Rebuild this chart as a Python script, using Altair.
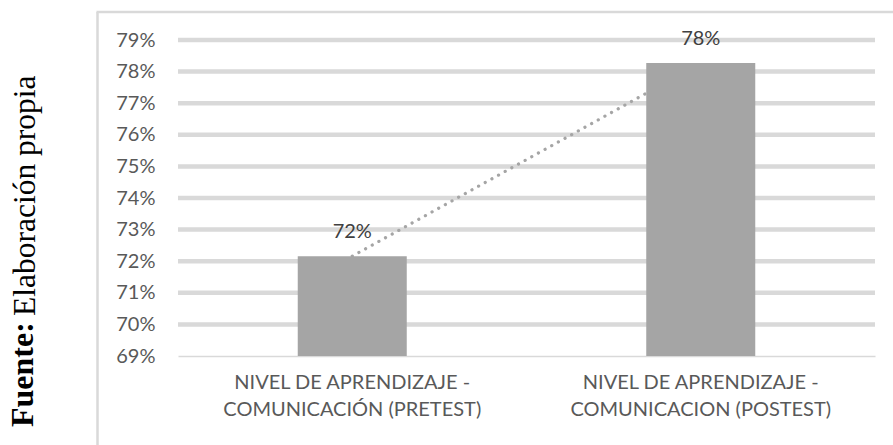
import altair as alt
import pandas as pd

# Learning level results before and after the intervention
categories = [
    "NIVEL DE APRENDIZAJE - COMUNICACIÓN (PRETEST)",
    "NIVEL DE APRENDIZAJE - COMUNICACION (POSTEST)",
]
values = [0.7216, 0.7827]
y_ticks = [0.69, 0.70, 0.71, 0.72, 0.73, 0.74, 0.75, 0.76, 0.77, 0.78, 0.79]
grid_ticks = y_ticks[1:]
y_min, y_max = y_ticks[0], y_ticks[-1]

W, H = 697, 316
FONT = "Lato"
GRID = "#d9d9d9"
BAR = "#a5a5a5"

bars_df = pd.DataFrame({"nivel": categories, "valor": values})
grid_df = pd.DataFrame({"valor": grid_ticks})
one = pd.DataFrame({"k": [0]})

x_enc = alt.X(
    "nivel:N",
    sort=categories,
    scale=alt.Scale(paddingInner=0, paddingOuter=0),
    axis=alt.Axis(
        title=None,
        labelAngle=0,
        labelExpr="split(replace(datum.label, ' - ', ' -|'), '|')",
        labelFont=FONT,
        labelFontSize=20,
        labelColor="#595959",
        labelLineHeight=27.5,
        labelLimit=0,
        labelPadding=16,
        ticks=False,
        domainColor=GRID,
        domainWidth=1.5,
    ),
)
y_enc = alt.Y(
    "valor:Q",
    scale=alt.Scale(domain=[y_min, y_max], nice=False, zero=False),
    axis=alt.Axis(
        title=None,
        values=y_ticks,
        format=".0%",
        grid=False,
        ticks=False,
        domain=False,
        labelFont=FONT,
        labelFontSize=20,
        labelColor="#595959",
        labelPadding=23,
    ),
)

# thin frame on the left and top
frame_left = alt.Chart(one).mark_rule(color=GRID, strokeWidth=2.5).encode(
    x=alt.value(-80.5), y=alt.value(-28), y2=alt.value(H + 89)
)
frame_top = alt.Chart(one).mark_rule(color=GRID, strokeWidth=2.5).encode(
    x=alt.value(-81.5), x2=alt.value(W + 18), y=alt.value(-28)
)

grid = alt.Chart(grid_df).mark_rule(color=GRID, strokeWidth=4.5).encode(
    y=y_enc, x=alt.value(0), x2=alt.value(W)
)

trend = alt.Chart(bars_df).mark_line(
    color=BAR, strokeWidth=3.2, strokeDash=[0.1, 7.5], strokeCap="round"
).encode(x=x_enc, y=y_enc)

bars = alt.Chart(bars_df).mark_bar(color=BAR, size=109).encode(
    x=x_enc, y=y_enc, y2=alt.datum(y_min)
)

labels = alt.Chart(bars_df).mark_text(
    font=FONT, fontSize=20, color="#404040", baseline="alphabetic", dy=-18
).encode(x=x_enc, y=y_enc, text=alt.Text("valor:Q", format=".0%"))

# vertical source note
src_bold = alt.Chart(one).mark_text(
    text="Fuente:", font="Liberation Serif", fontWeight="bold", fontSize=32,
    angle=270, align="left", baseline="alphabetic", color="#000000",
).encode(x=alt.value(-145), y=alt.value(387))
src_reg = alt.Chart(one).mark_text(
    text="Elaboración propia", font="Liberation Serif", fontSize=31.5,
    angle=270, align="left", baseline="alphabetic", color="#000000",
).encode(x=alt.value(-143), y=alt.value(276))

chart = alt.layer(
    frame_left, frame_top, grid, trend, bars, labels, src_bold, src_reg
).properties(
    width=W,
    height=H,
    autosize="none",
    padding={"left": 178, "top": 40, "right": 18, "bottom": 89},
    background="white",
).configure_view(stroke=None)

chart.save("out.html", embed_options={"renderer": "svg", "actions": False})
